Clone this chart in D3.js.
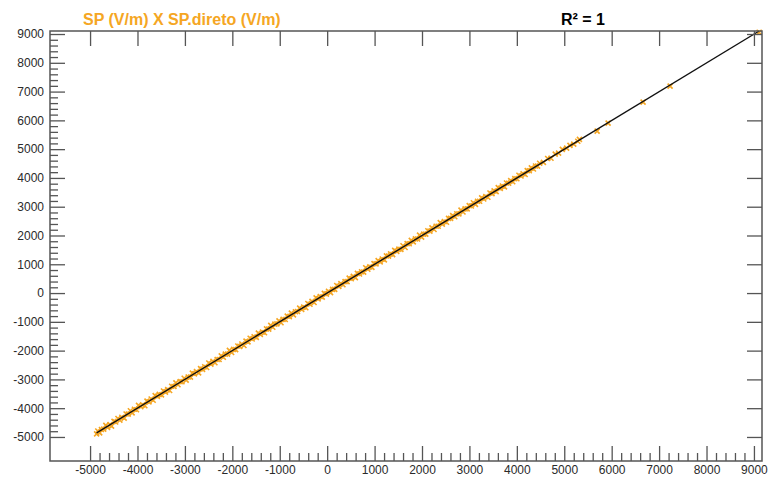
<!DOCTYPE html>
<html>
<head>
<meta charset="utf-8">
<script src="https://cdn.jsdelivr.net/npm/d3@7"></script>
<style>
  html, body { margin: 0; padding: 0; background: #ffffff; }
  svg { display: block; font-family: Arial, "Liberation Sans", sans-serif; }
</style>
</head>
<body>
<svg id="chart" width="776" height="478"></svg>
<script>
// ---- data ----
const title = "SP (V/m) X SP.direto (V/m)";
const r2Label = "R² = 1";
const majorTicks = [-5000, -4000, -3000, -2000, -1000, 0, 1000, 2000, 3000, 4000, 5000, 6000, 7000, 8000, 9000];
const xLimits = [-5845, 9170];
const yLimits = [-5835, 9105];

// SP (V/m)
const spValues = [
  -4862, -4838, -4797, -4760, -4712, -4668, -4631, -4580, -4547, -4495, -4460, -4412, -4371, -4330, -4281, -4240,
  -4196, -4150, -4113, -4064, -4021, -3978, -3930, -3891, -3845, -3800, -3757, -3712, -3669, -3627, -3580, -3541,
  -3494, -3452, -3410, -3363, -3322, -3279, -3231, -3190, -3146, -3101, -3062, -3015, -2973, -2930, -2884, -2843,
  -2800, -2756, -2711, -2670, -2627, -2582, -2541, -2496, -2452, -2409, -2367, -2320, -2279, -2233, -2190, -2148,
  -2101, -2062, -2015, -1972, -1930, -1884, -1843, -1799, -1755, -1712, -1669, -1624, -1581, -1540, -1494, -1451,
  -1409, -1363, -1322, -1278, -1232, -1190, -1147, -1103, -1060, -1016, -973, -930, -884, -842, -798, -755,
  -711, -668, -625, -580, -537, -494, -450, -407, -363, -320, -276, -233, -190, -146, -103, -59,
  -16, 28, 71, 115, 159, 202, 246, 289, 333, 377, 420, 464, 508, 551, 595, 638,
  682, 726, 769, 813, 857, 900, 944, 988, 1031, 1075, 1119, 1162, 1206, 1250, 1293, 1337,
  1381, 1424, 1468, 1512, 1555, 1599, 1643, 1686, 1730, 1774, 1817, 1861, 1905, 1948, 1992, 2036,
  2079, 2123, 2167, 2210, 2254, 2298, 2341, 2385, 2429, 2472, 2516, 2560, 2603, 2647, 2691, 2734,
  2778, 2822, 2865, 2909, 2953, 2996, 3040, 3084, 3127, 3171, 3215, 3258, 3302, 3346, 3389, 3433,
  3477, 3520, 3564, 3608, 3651, 3695, 3739, 3782, 3826, 3870, 3913, 3957, 4001, 4044, 4088, 4132,
  4175, 4219, 4263, 4306, 4350, 4394, 4437, 4481, 4560, 4650, 4720, 4810, 4880, 4960, 5050, 5120,
  5200, 5285, 5320, 5693, 5925, 6662, 7232, 9110
];
// SP.direto (V/m)
const spDiretoValues = [
  -4892, -4793, -4857, -4740, -4727, -4598, -4671, -4570, -4622, -4460, -4480, -4357, -4416, -4315, -4346, -4200,
  -4206, -4090, -4163, -4039, -4056, -3903, -3950, -3886, -3915, -3755, -3782, -3682, -3724, -3562, -3590, -3521,
  -3539, -3402, -3440, -3353, -3387, -3239, -3246, -3120, -3186, -3076, -3082, -2960, -3023, -2915, -2919, -2783,
  -2810, -2726, -2771, -2625, -2652, -2562, -2586, -2431, -2467, -2374, -2422, -2310, -2309, -2183, -2230, -2123,
  -2121, -1992, -2065, -1957, -1965, -1839, -1853, -1769, -1820, -1672, -1694, -1569, -1596, -1520, -1539, -1391,
  -1439, -1353, -1377, -1243, -1252, -1125, -1187, -1078, -1070, -966, -1033, -915, -919, -802, -818, -695,
  -756, -648, -640, -525, -572, -484, -510, -362, -388, -290, -326, -168, -200, -121, -143, -9,
  -36, 63, 16, 130, 129, 262, 231, 329, 288, 397, 395, 519, 498, 581, 535, 683,
  662, 741, 729, 878, 827, 910, 894, 1023, 1016, 1125, 1084, 1182, 1151, 1290, 1283, 1362,
  1336, 1484, 1448, 1527, 1520, 1644, 1583, 1716, 1715, 1829, 1777, 1881, 1880, 2013, 1942, 2046,
  2049, 2163, 2152, 2265, 2209, 2323, 2321, 2445, 2394, 2487, 2461, 2595, 2593, 2692, 2651, 2754,
  2753, 2882, 2815, 2924, 2923, 3036, 3025, 3139, 3082, 3191, 3190, 3308, 3267, 3356, 3329, 3478,
  3457, 3550, 3524, 3663, 3636, 3720, 3689, 3822, 3816, 3905, 3868, 3977, 3971, 4094, 4068, 4147,
  4120, 4254, 4248, 4351, 4310, 4414, 4412, 4511, 4540, 4675, 4685, 4825, 4860, 4990, 5035, 5130,
  5175, 5275, 5340, 5628, 5905, 6632, 7192, 9060
];

// ---- chart ----
const svg = d3.select("#chart");
const frame = { left: 50, right: 762, top: 31, bottom: 461 };
const x = d3.scaleLinear().domain(xLimits).range([frame.left, frame.right]);
const y = d3.scaleLinear().domain(yLimits).range([frame.bottom, frame.top]);

const minorTicks = d3.range(-5000, 9001, 200).filter(v => v % 1000 !== 0);
const frameColor = "#555555";
const labelColor = "#2a2a2a";
const orange = "#F5A623";

// points
const points = spValues.map((v, i) => ({ x: v, y: spDiretoValues[i] }));
const s = 2.5;
const pts = svg.append("g");
pts.selectAll("path").data(points).join("path")
  .attr("d", d => {
    const px = x(d.x), py = y(d.y);
    return `M${px - s},${py - s}L${px + s},${py + s}M${px - s},${py + s}L${px + s},${py - s}`;
  })
  .attr("stroke", orange)
  .attr("stroke-width", 1.6)
  .attr("fill", "none");

// regression line
const mx = d3.mean(points, d => d.x), my = d3.mean(points, d => d.y);
const sxy = d3.sum(points, d => (d.x - mx) * (d.y - my));
const sxx = d3.sum(points, d => (d.x - mx) * (d.x - mx));
const slope = sxy / sxx, intercept = my - slope * mx;
const [xMin, xMax] = d3.extent(points, d => d.x);
svg.append("line")
  .attr("x1", x(xMin)).attr("y1", y(intercept + slope * xMin))
  .attr("x2", x(xMax)).attr("y2", y(intercept + slope * xMax))
  .attr("stroke", "#111").attr("stroke-width", 1.4);

// axes helper
function styleAxis(g) {
  g.select(".domain").remove();
  g.selectAll(".tick line").attr("stroke", frameColor).attr("stroke-width", 1.3);
  g.selectAll(".tick text").attr("fill", labelColor).attr("font-size", 12)
    .attr("font-family", "Arial, 'Liberation Sans', sans-serif");
}
const fmt = d => String(d);

svg.append("g").attr("transform", `translate(0,${frame.bottom})`)
  .call(d3.axisBottom(x).tickValues(minorTicks).tickSize(-8).tickFormat(""))
  .call(styleAxis);
svg.append("g").attr("transform", `translate(0,${frame.bottom})`)
  .call(d3.axisBottom(x).tickValues(majorTicks).tickSize(-15).tickPadding(4).tickFormat(fmt))
  .call(styleAxis);
svg.append("g").attr("transform", `translate(0,${frame.top})`)
  .call(d3.axisTop(x).tickValues(majorTicks).tickSize(-15).tickFormat(""))
  .call(styleAxis);
svg.append("g").attr("transform", `translate(${frame.left},0)`)
  .call(d3.axisLeft(y).tickValues(minorTicks).tickSize(-8).tickFormat(""))
  .call(styleAxis);
svg.append("g").attr("transform", `translate(${frame.left},0)`)
  .call(d3.axisLeft(y).tickValues(majorTicks).tickSize(-15).tickPadding(6).tickFormat(fmt))
  .call(styleAxis);
svg.append("g").attr("transform", `translate(${frame.right},0)`)
  .call(d3.axisRight(y).tickValues(majorTicks).tickSize(-15).tickFormat(""))
  .call(styleAxis);

// frame
svg.append("rect")
  .attr("x", frame.left).attr("y", frame.top)
  .attr("width", frame.right - frame.left).attr("height", frame.bottom - frame.top)
  .attr("fill", "none").attr("stroke", frameColor).attr("stroke-width", 1.5);

// titles
svg.append("text").attr("x", 83).attr("y", 25)
  .attr("font-size", 16).attr("font-weight", "bold").attr("fill", orange)
  .text(title);
svg.append("text").attr("x", 561).attr("y", 25)
  .attr("font-size", 16).attr("font-weight", "bold").attr("fill", "#000")
  .text(r2Label);
</script>
</body>
</html>
